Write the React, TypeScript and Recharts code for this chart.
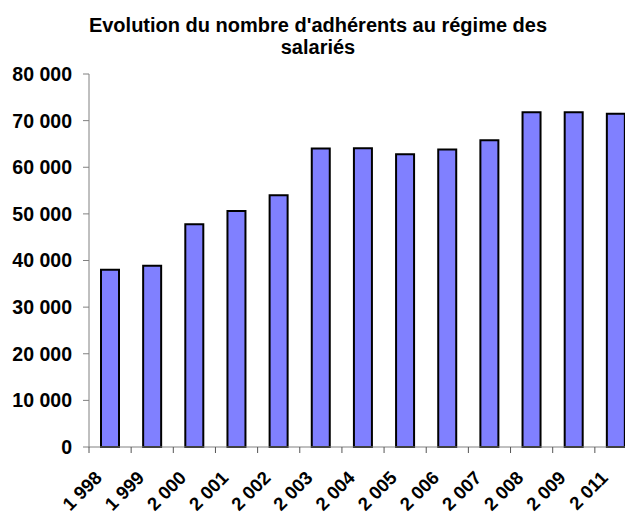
import { Bar, BarChart, XAxis, YAxis } from "recharts";

const years = [
  "1 998", "1 999", "2 000", "2 001", "2 002", "2 003", "2 004",
  "2 005", "2 006", "2 007", "2 008", "2 009", "2 011",
];
const adherents = [
  38000, 38900, 47800, 50600, 54000, 64000, 64100,
  62800, 63800, 65800, 71800, 71800, 71500,
];
const yTicks = [0, 10000, 20000, 30000, 40000, 50000, 60000, 70000, 80000];

const data = years.map((year, i) => ({ year, value: adherents[i] }));

const font = "'Liberation Sans', Arial, sans-serif";
const fmt = (v: number) => v.toLocaleString("fr-FR").replace(/\s/g, " ");

const YearTick = (props: any) => {
  const { x, y, payload } = props;
  const edge = x - (payload.offset ?? 0);
  const lx = x - 7;
  const ly = y + 32;
  return (
    <g>
      <line x1={edge} y1={y} x2={edge} y2={y + 6} stroke="#555" />
      <text
        x={lx}
        y={ly}
        transform={`rotate(-45 ${lx} ${ly})`}
        textAnchor="end"
        fontFamily={font}
        fontWeight="bold"
        fontSize={18.5}
        fill="#000"
      >
        {payload.value}
      </text>
    </g>
  );
};

const App = () => {
  return (
    <div style={{ position: "relative", width: 625, height: 509, fontFamily: font }}>
      <div
        style={{
          position: "absolute",
          left: 0,
          top: 6,
          width: 620,
          textAlign: "center",
          fontWeight: "bold",
          fontSize: 20,
          lineHeight: "22px",
        }}
      >
        Evolution du nombre d'adhérents au régime des
        <br />
        salariés
      </div>
      <BarChart
        width={625}
        height={509}
        data={data}
        margin={{ top: 66, right: -4, left: 0, bottom: 0 }}
      >
        <XAxis
          dataKey="year"
          height={70}
          interval={0}
          stroke="#808080"
          tickLine={false}
          tickSize={0}
          tickMargin={0}
          tick={<YearTick />}
        />
        <YAxis
          width={81}
          domain={[0, 80000]}
          ticks={yTicks}
          interval={0}
          stroke="#808080"
          tickSize={6}
          tickMargin={11}
          tickFormatter={fmt}
          tick={{ fill: "#000", fontWeight: "bold", fontSize: 19.5, fontFamily: font }}
        />
        <Bar
          dataKey="value"
          fill="#8080FF"
          stroke="#000"
          strokeWidth={2}
          barSize={18}
          isAnimationActive={false}
        />
      </BarChart>
    </div>
  );
};

export default App;
